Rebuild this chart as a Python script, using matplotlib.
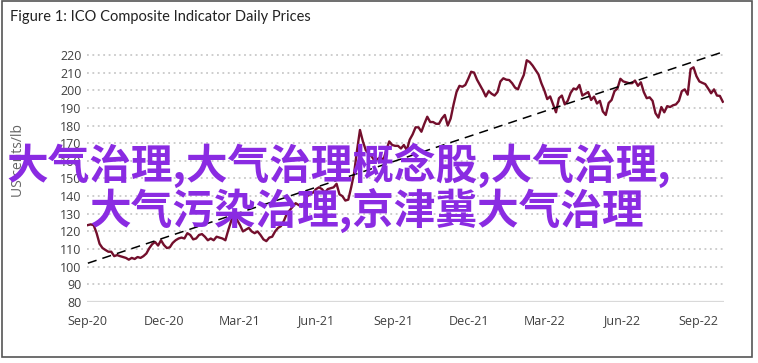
import matplotlib
matplotlib.use("Agg")
import matplotlib.pyplot as plt
import matplotlib.dates as mdates
from matplotlib.patches import Rectangle
import numpy as np
import pandas as pd

# ICO composite indicator, every ~3.5 days (US cents/lb)
start_date = "2020-09-01"
prices = [
    123.6, 124.0, 123.5, 119.0, 113.0, 110.6, 109.5, 108.5, 108.5, 106.0,
    106.6, 106.0, 105.5, 105.0, 104.0, 105.0, 104.4, 105.5, 105.0, 106.0,
    107.5, 110.5, 112.8, 114.0, 112.0, 115.0, 112.3, 110.6, 111.0, 113.5,
    115.0, 116.0, 116.5, 116.0, 119.0, 118.0, 115.5, 116.0, 118.0, 118.5,
    117.0, 115.0, 116.0, 115.0, 117.0, 116.5, 116.0, 115.0, 120.8, 126.0,
    130.0, 126.5, 123.6, 120.0, 121.0, 122.0, 120.0, 119.0, 120.0, 118.0,
    115.5, 114.5, 116.5, 117.0, 120.0, 122.0, 123.0, 126.0, 130.0, 132.0,
    134.0, 136.0, 135.0, 134.0, 136.5, 140.0, 141.5, 142.0, 144.0, 145.0,
    144.0, 142.0, 144.0, 144.5, 145.0, 147.0, 141.0, 140.0, 137.5, 138.0,
    145.0, 153.0, 166.0, 177.5, 171.0, 166.0, 164.0, 162.5, 160.0, 161.0,
    162.0, 160.5, 166.0, 171.0, 169.0, 168.5, 168.5, 167.0, 169.0, 166.0,
    172.0, 175.0, 179.0, 179.0, 176.5, 181.0, 185.0, 182.0, 182.0, 181.0,
    181.0, 184.0, 186.0, 180.0, 184.0, 192.0, 199.0, 202.5, 202.0, 203.0,
    206.5, 210.5, 210.0, 206.0, 203.0, 200.0, 196.5, 199.5, 198.0, 197.0,
    199.0, 205.0, 206.8, 206.0, 205.8, 204.0, 201.5, 200.5, 205.0, 208.7,
    217.0, 216.0, 214.0, 211.5, 209.0, 204.0, 200.0, 195.0, 196.5, 192.0,
    187.5, 195.5, 197.0, 192.0, 194.0, 198.5, 201.0, 200.5, 203.0, 197.0,
    198.0, 199.0, 194.5, 196.4, 192.5, 194.0, 188.0, 186.0, 192.8, 194.5,
    199.5, 201.0, 206.5, 205.0, 204.5, 204.0, 204.0, 205.5, 202.5, 204.5,
    199.0, 195.5, 196.0, 194.0, 187.0, 184.5, 190.5, 187.5, 191.0, 190.5,
    191.5, 192.0, 194.0, 199.5, 200.5, 197.5, 212.0, 213.0, 208.0, 205.0,
    204.2, 203.5, 201.0, 198.3, 200.5, 197.0, 196.8, 193.5,
]
trend_start = 102.0
trend_end = 221.7

title = "Figure 1: ICO Composite Indicator Daily Prices"
ylabel = "US cents/lb"
overlay_1 = "大气治理,大气治理概念股,大气治理,"
overlay_2 = "大气污染治理,京津冀大气治理"

dates = pd.date_range(start_date, periods=len(prices), freq="84h")

fig = plt.figure(figsize=(7.58, 3.63), dpi=100)
ax = fig.add_axes([0.1148, 0.168, 0.8404, 0.70])

for v in range(90, 230, 10):
    ax.axhline(v, color="#c9c9c9", lw=1.3, ls=(0, (1, 2)), zorder=1)
ax.axhline(80, color="#d9d9d9", lw=1.6, zorder=1)

ax.plot(dates, prices, color="#730f2c", lw=1.7, zorder=3)
ax.plot([dates[0], dates[-1]], [trend_start, trend_end], color="black",
        lw=1.1, ls=(0, (6, 4)), zorder=4)

ax.set_xlim(pd.Timestamp("2020-08-31"), pd.Timestamp("2022-10-02"))
ax.set_ylim(80, 224)
ax.set_yticks(range(80, 230, 10))
ax.xaxis.set_major_locator(mdates.MonthLocator(bymonth=[3, 6, 9, 12]))
ax.xaxis.set_major_formatter(mdates.DateFormatter("%b-%y"))
for s in ax.spines.values():
    s.set_visible(False)
ax.tick_params(length=0, labelsize=9, colors="#404040", pad=4)
ax.tick_params(axis="x", pad=9)
for lab in ax.get_xticklabels() + ax.get_yticklabels():
    lab.set_family("Open Sans")

fig.text(0.013, 0.953, title, fontsize=10.5, family="Lato",
         color="#222222", va="center", ha="left")
fig.text(0.024, 0.559, ylabel, fontsize=10, family="Open Sans",
         color="#666666", rotation=90, va="center", ha="center")

fig.text(0.447, 0.545, overlay_1, fontsize=30, family="Noto Sans CJK SC",
         fontweight="bold", color="#8a2be2", ha="center", va="center", zorder=10)
fig.text(0.484, 0.42, overlay_2, fontsize=30, family="Noto Sans CJK SC",
         fontweight="bold", color="#8a2be2", ha="center", va="center", zorder=10)

fig.patches.append(Rectangle((2 / 758, 6 / 363), 750 / 758, 356 / 363,
                             transform=fig.transFigure, fill=False,
                             edgecolor="#555555", lw=1.2))

fig.savefig("out.png", dpi=100)
